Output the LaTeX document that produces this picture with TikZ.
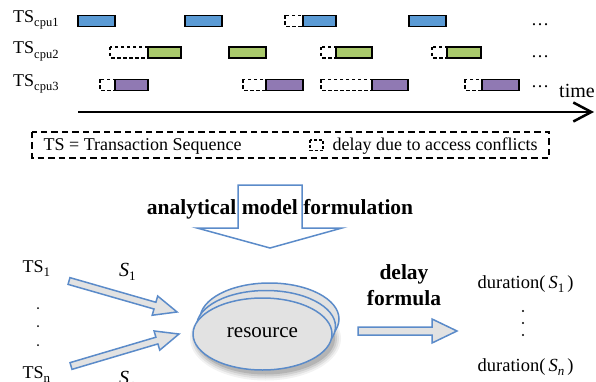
\documentclass[tikz,border=0pt]{standalone}
\usepackage{fontspec}
\setmainfont{Liberation Serif}
\usetikzlibrary{arrows.meta}
\definecolor{cblue}{HTML}{5B9BD5}
\definecolor{cgreen}{HTML}{A9C96B}
\definecolor{cpurple}{HTML}{9079B3}
\definecolor{aline}{HTML}{5B8BC9}
\definecolor{afill}{HTML}{E2E2E2}
% tail x, tail y, angle, length, shaft half width, head half width, head length
\newcommand{\barw}[7]{%
\begin{scope}[shift={(#1,#2)},rotate=#3]
\draw[barrow] (0,-#5) -- ({#4-#7},-#5) -- ({#4-#7},-#6) -- (#4,0) -- ({#4-#7},#6) -- ({#4-#7},#5) -- (0,#5) -- cycle;
\end{scope}}
\newcommand{\myS}[1]{{\itshape S}\raisebox{-4pt}{\fontsize{13}{13}\selectfont #1}}
\begin{document}
\begin{tikzpicture}[x=1pt,y=-1pt,
  bar/.style={draw=black,line width=1.4pt},
  dbar/.style={draw=black,line width=1.3pt,dash pattern=on 3.5pt off 2.5pt,fill=white},
  barrow/.style={draw=aline,fill=afill,line width=1.5pt,line join=miter},
  lbl/.style={font=\fontsize{18}{20}\selectfont,inner sep=0pt,anchor=base west},
  bold/.style={font=\fontsize{21.5}{24}\selectfont\bfseries,inner sep=0pt,anchor=base},
  txt/.style={inner sep=0pt,anchor=base west},
  ell/.style={draw=aline,fill=afill,line width=1.5pt}]
\useasboundingbox (0,0) rectangle (596,382);

% row labels
\node[lbl] (ts1) at (13,22.5) {TS\raisebox{-4.5pt}{\fontsize{12.5}{13}\selectfont cpu1}};
\node[lbl] (ts2) at (13,54) {TS\raisebox{-4.5pt}{\fontsize{12.5}{13}\selectfont cpu2}};
\node[lbl] (ts3) at (13,86.5) {TS\raisebox{-4.5pt}{\fontsize{12.5}{13}\selectfont cpu3}};

% row 1
\draw[bar,fill=cblue] (78,15.5) rectangle (115,26.5);
\draw[bar,fill=cblue] (185,15.5) rectangle (222,26.5);
\draw[dbar] (285,15.5) rectangle (303,26.5);
\draw[bar,fill=cblue] (303,15.5) rectangle (336,26.5);
\draw[bar,fill=cblue] (409,15.5) rectangle (446,26.5);
% row 2
\draw[dbar] (110,47) rectangle (148,58);
\draw[bar,fill=cgreen] (148,47) rectangle (181,58);
\draw[bar,fill=cgreen] (229,47) rectangle (266,58);
\draw[dbar] (321,47) rectangle (336,58);
\draw[bar,fill=cgreen] (336,47) rectangle (372,58);
\draw[dbar] (432,47) rectangle (447,58);
\draw[bar,fill=cgreen] (447,47) rectangle (481,58);
% row 3
\draw[dbar] (100,79.5) rectangle (115,90.5);
\draw[bar,fill=cpurple] (115,79.5) rectangle (148,90.5);
\draw[dbar] (243,79.5) rectangle (266,90.5);
\draw[bar,fill=cpurple] (266,79.5) rectangle (303,90.5);
\draw[dbar] (321,79.5) rectangle (372,90.5);
\draw[bar,fill=cpurple] (372,79.5) rectangle (408,90.5);
\draw[dbar] (465,79.5) rectangle (482,90.5);
\draw[bar,fill=cpurple] (482,79.5) rectangle (519,90.5);

% dots
\node[lbl] (d1) at (531,26) {\ldots};
\node[lbl] (d2) at (531,58) {\ldots};
\node[lbl] (d3) at (531,87.5) {\ldots};

% time axis
\node[txt,font=\fontsize{20}{22}\selectfont] (time) at (559,98) {time};
\coordinate (t0) at (78,112);
\coordinate (t1) at (594,112);
\draw[line width=2pt,-{Straight Barb[length=18pt,width=19pt,line width=2.5pt]}] (t0) -- (t1);

% legend
\draw[line width=1.4pt,dash pattern=on 6.5pt off 4pt] (32,132) rectangle (549,158);
\node[lbl] (leg1) at (43.5,150) {TS = Transaction Sequence};
\draw[dbar,line width=1.4pt,dash pattern=on 3pt off 2pt] (310,140) rectangle (323,150.5);
\node[lbl] (leg2) at (332.5,150) {delay due to access conflicts};

% down arrow
\draw[draw=aline,line width=1.5pt,line join=miter] (238,185) -- (302,185) -- (302,228) -- (342,228) -- (270,248) -- (197,228) -- (238,228) -- cycle;
\node[bold] (amf) at (280,214) {analytical model formulation};

% inputs
\node[lbl] (in1) at (22.5,272) {TS\raisebox{-4.5pt}{\fontsize{13}{13}\selectfont 1}};
\node[lbl] (inn) at (22.5,378) {TS\raisebox{-4.5pt}{\fontsize{13}{13}\selectfont n}};
\fill (38,308) circle (1pt);
\fill (38,326) circle (1pt);
\fill (38,345) circle (1pt);
\node[txt,font=\fontsize{20}{21}\selectfont] (s1) at (119,276) {\myS{1}};
\node[txt,font=\fontsize{20}{21}\selectfont] (sn) at (119,384) {\myS{n}};
\barw{69}{281}{-16}{112.4}{3.5}{10}{23}
\barw{71}{366}{16.5}{112.6}{3.5}{10}{23}

% resource ellipses with soft shadow
\foreach \r/\o in {6/0.05,4/0.07,2/0.09,0/0.12}
  \fill[black,opacity=\o] (265.5,338.5) ellipse [x radius={69.5pt+\r pt}, y radius={36pt+\r pt}];
\draw[ell] (269.5,319) ellipse [x radius=69.5pt, y radius=36pt];
\draw[ell] (266,326.5) ellipse [x radius=69.5pt, y radius=36pt];
\draw[ell] (262.5,334) ellipse [x radius=69.5pt, y radius=36pt];
\node[inner sep=0pt,font=\fontsize{21}{23}\selectfont] (res) at (262.5,333) {resource};

% delay formula
\node[bold] (df1) at (404,279) {delay};
\node[bold] (df2) at (404,305) {formula};
\barw{358}{331}{0}{99}{4}{12}{25}

% outputs
\node[txt,font=\fontsize{18.5}{20}\selectfont] (o1) at (477.5,288) {duration(\,\myS{1}\,)};
\node[txt,font=\fontsize{18.5}{20}\selectfont] (on) at (477.5,371) {duration(\,\myS{\itshape n}\,)};
\fill (523,311) circle (1.1pt);
\fill (523,323) circle (1.1pt);
\fill (523,335) circle (1.1pt);
\end{tikzpicture}
\end{document}
